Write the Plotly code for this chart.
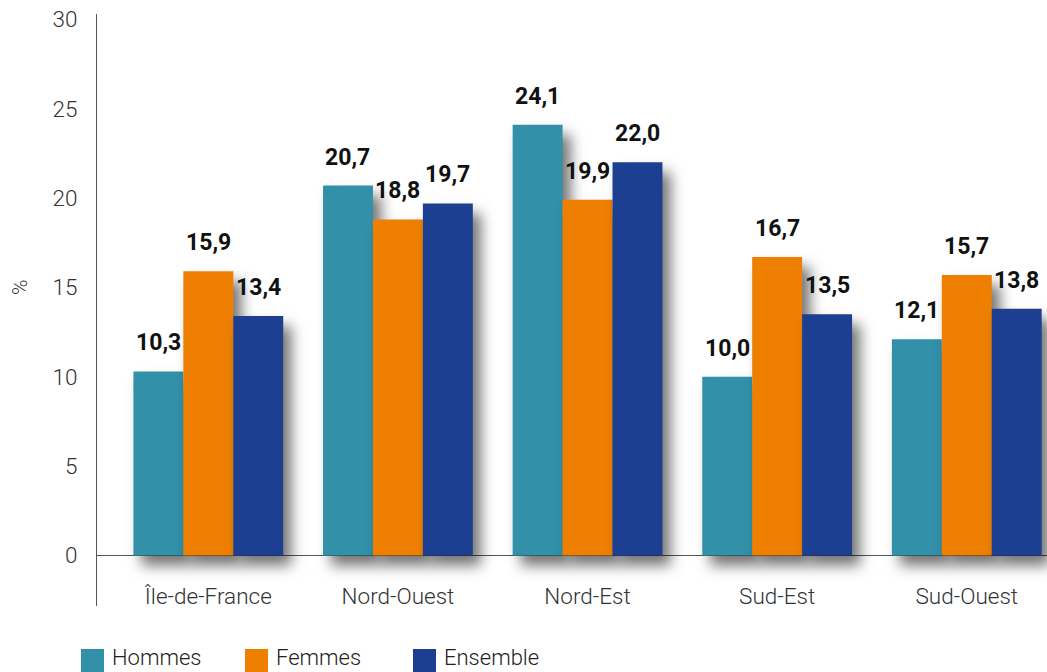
import plotly.graph_objects as go

# Régions et taux (%) par sexe
regions = ["Île-de-France", "Nord-Ouest", "Nord-Est", "Sud-Est", "Sud-Ouest"]
hommes = [10.3, 20.7, 24.1, 10.0, 12.1]
femmes = [15.9, 18.8, 19.9, 16.7, 15.7]
ensemble = [13.4, 19.7, 22.0, 13.5, 13.8]

series_names = ["Hommes", "Femmes", "Ensemble"]
series_values = [hommes, femmes, ensemble]
series_colors = ["#3290A9", "#EF7F00", "#1C3F91"]

y_ticks = [0, 5, 10, 15, 20, 25, 30]

LABEL_FONT = "Roboto"


def fr(v):
    return f"{v:.1f}".replace(".", ",")


fig = go.Figure()
for name, vals, col in zip(series_names, series_values, series_colors):
    fig.add_trace(go.Bar(
        x=regions, y=vals, name=name, marker=dict(color=col, line=dict(width=0)),
        showlegend=False, hoverinfo="skip",
    ))

# Valeurs au-dessus des barres
n = len(series_names)
bar_w = (1 - 0.21) / n
annotations = []
for k, vals in enumerate(series_values):
    off = (k - (n - 1) / 2) * bar_w
    for i, v in enumerate(vals):
        annotations.append(dict(
            x=i + off, y=v, xref="x", yref="y", text=fr(v), showarrow=False,
            yanchor="bottom", yshift=13,
            font=dict(family=LABEL_FONT, size=23, color="#111111", weight=700),
        ))

# Légende personnalisée (carrés + libellés)
legend_x = [81, 245, 413]
W, H = 1047, 672
shapes = []
for name, col, lx in zip(series_names, series_colors, legend_x):
    shapes.append(dict(
        type="rect", xref="paper", yref="paper",
        x0=(lx - 97) / 950, x1=(lx + 23 - 97) / 950,
        y0=-(649 - 606) / 592, y1=-(673 - 606) / 592,
        fillcolor=col, line=dict(width=0), layer="above",
    ))
    annotations.append(dict(
        x=(lx + 30 - 97) / 950, y=-(657 - 606) / 592, xref="paper", yref="paper",
        text=name, showarrow=False, xanchor="left", yanchor="middle",
        borderpad=0,
        font=dict(family=LABEL_FONT, size=22, color="#222222", weight=300),
    ))

annotations.append(dict(
    x=(20 - 97) / 950, y=(606 - 287) / 592, xref="paper", yref="paper",
    text="%", showarrow=False, textangle=-90, xanchor="center", yanchor="middle",
    font=dict(family=LABEL_FONT, size=21, color="#333333", weight=300),
))

fig.update_layout(
    width=W, height=H,
    margin=dict(l=97, r=0, t=14, b=66),
    paper_bgcolor="white", plot_bgcolor="white",
    barmode="group", bargap=0.21, bargroupgap=0,
    annotations=annotations, shapes=shapes,
    xaxis=dict(
        range=[-0.587, 4.423], showgrid=False, showline=False, ticks="",
        anchor="free", position=0.043,
        tickfont=dict(family=LABEL_FONT, size=22.5, color="#333333", weight=300),
        fixedrange=True,
    ),
    yaxis=dict(
        range=[-2.83, 30.3], tickvals=y_ticks, showgrid=False,
        showline=True, linecolor="#555555", linewidth=1,
        zeroline=True, zerolinecolor="#555555", zerolinewidth=1,
        ticks="", ticklabelstandoff=14,
        tickfont=dict(family=LABEL_FONT, size=22.5, color="#333333", weight=300),
        fixedrange=True,
    ),
)

shadow_js = """
var gd = document.getElementById('{plot_id}');
gd.querySelectorAll('.barlayer .trace').forEach(function(t){
  t.style.filter = 'drop-shadow(8px 10px 7px rgba(0,0,0,0.55))';
});
"""

fig.write_html("out.html", post_script=shadow_js, config={"displayModeBar": False})
